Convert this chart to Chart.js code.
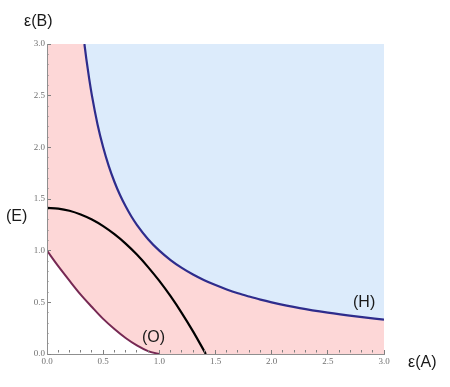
<!DOCTYPE html>
<html>
<head>
<meta charset="utf-8">
<script src="https://cdn.jsdelivr.net/npm/chart.js@4/dist/chart.umd.min.js"></script>
<style>
  html, body { margin: 0; padding: 0; background: #ffffff; }
  #wrap { position: relative; width: 450px; height: 387px; }
  canvas { display: block; }
</style>
</head>
<body>
<div id="wrap"><canvas id="c" width="450" height="387"></canvas></div>
<script>
// ---- data ----
const majorTicks = [0, 0.5, 1.0, 1.5, 2.0, 2.5, 3.0];

// (O) curve
const oX = [0, 0.1, 0.2, 0.3, 0.4, 0.5, 0.6, 0.7, 0.8, 0.9, 1.0];
const oY = [1.0, 0.85, 0.71, 0.575, 0.455, 0.34, 0.242, 0.155, 0.083, 0.028, 0.0];

// (E) curve
const eX = [0, 0.1, 0.2, 0.3, 0.4, 0.5, 0.6, 0.7, 0.8, 0.9, 1.0, 1.1, 1.2, 1.3, 1.414];
const eY = [1.414, 1.407, 1.386, 1.35, 1.301, 1.237, 1.159, 1.068, 0.962, 0.841, 0.707, 0.559, 0.396, 0.219, 0.0];

// (H) curve
const hX = [0.333, 0.35, 0.375, 0.4, 0.45, 0.5, 0.55, 0.6, 0.65, 0.7, 0.75, 0.8, 0.9, 1.0, 1.1, 1.2, 1.3, 1.4, 1.5, 1.6, 1.7, 1.8, 1.9, 2.0, 2.25, 2.5, 2.75, 3.0];
const hY = [3.0, 2.857, 2.667, 2.5, 2.222, 2.0, 1.818, 1.667, 1.538, 1.429, 1.333, 1.25, 1.111, 1.0, 0.909, 0.833, 0.769, 0.714, 0.667, 0.625, 0.588, 0.556, 0.526, 0.5, 0.444, 0.4, 0.364, 0.333];

// text labels
const axisLabelY = 'ε(B)';
const axisLabelX = 'ε(A)';
const curveLabels = ['(E)', '(H)', '(O)'];

// ---- build points ----
const pts = (xs, ys) => xs.map((x, i) => ({ x: x, y: ys[i] }));
const oPts = pts(oX, oY);
const ePts = pts(eX, eY);
const hPts = pts(hX, hY);
const boundaryPts = [{ x: 0, y: hY[0] }].concat(hPts);

const isMajor = v => majorTicks.some(m => Math.abs(m - v) < 1e-6);

const textPlugin = {
  id: 'texts',
  afterDraw(chart) {
    const ctx = chart.ctx;
    ctx.save();
    ctx.fillStyle = '#1a1a1a';
    ctx.font = '16px "Liberation Sans", Arial, sans-serif';
    ctx.textBaseline = 'middle';
    ctx.textAlign = 'left';
    ctx.fillText(axisLabelY, 24, 22);
    ctx.fillText(axisLabelX, 408, 363);
    ctx.fillText(curveLabels[0], 6, 217);
    ctx.fillText(curveLabels[1], 353, 303);
    ctx.fillText(curveLabels[2], 142, 338);
    ctx.restore();
  }
};

const axisCommon = (pos) => ({
  type: 'linear',
  position: pos,
  min: 0,
  max: 3,
  border: { display: true, color: '#8f8f8f', width: 1, z: 1 },
  grid: {
    z: 1,
    drawOnChartArea: false,
    drawTicks: true,
    tickLength: -4,
    tickColor: '#7f7f7f',
    tickWidth: 1,
    tickBorderDash: (ctx) => (ctx.tick && isMajor(ctx.tick.value)) ? [] : [0, 2.5, 2.5, 10]
  },
  ticks: {
    z: 1,
    stepSize: 0.1,
    autoSkip: false,
    maxRotation: 0,
    color: '#707070',
    font: { family: '"Liberation Serif", "DejaVu Serif", serif', size: 9 },
    callback: (v) => isMajor(v) ? Number(v).toFixed(1) : ''
  }
});

const xAxis = axisCommon('bottom');
xAxis.ticks.padding = 6;
xAxis.afterFit = (s) => { s.height = 33; };
const yAxis = axisCommon('left');
yAxis.ticks.padding = 6;
yAxis.afterFit = (s) => { s.width = 47; };

new Chart(document.getElementById('c'), {
  type: 'scatter',
  data: {
    datasets: [
      {
        label: 'O',
        data: oPts,
        showLine: true,
        borderColor: '#762853',
        borderWidth: 2,
        pointRadius: 0,
        cubicInterpolationMode: 'monotone',
        fill: 'start',
        backgroundColor: '#ffffff'
      },
      {
        label: 'E',
        data: ePts,
        showLine: true,
        borderColor: '#000000',
        borderWidth: 2.2,
        pointRadius: 0,
        cubicInterpolationMode: 'monotone',
        fill: false
      },
      {
        label: 'H',
        data: hPts,
        showLine: true,
        borderColor: '#2e2c8c',
        borderWidth: 2.2,
        pointRadius: 0,
        cubicInterpolationMode: 'monotone',
        fill: false
      },
      {
        label: 'pink',
        data: boundaryPts,
        showLine: true,
        borderWidth: 0,
        borderColor: 'rgba(0,0,0,0)',
        pointRadius: 0,
        cubicInterpolationMode: 'monotone',
        fill: 'start',
        backgroundColor: '#fdd7d7'
      },
      {
        label: 'blue',
        data: boundaryPts,
        showLine: true,
        borderWidth: 0,
        borderColor: 'rgba(0,0,0,0)',
        pointRadius: 0,
        cubicInterpolationMode: 'monotone',
        fill: 'end',
        backgroundColor: '#dcebfb'
      }
    ]
  },
  options: {
    responsive: false,
    animation: false,
    devicePixelRatio: 1,
    layout: { padding: { left: 0, top: 44, right: 66, bottom: 0 } },
    plugins: {
      legend: { display: false },
      tooltip: { enabled: false },
      filler: { drawTime: 'beforeDatasetsDraw' }
    },
    scales: { x: xAxis, y: yAxis }
  },
  plugins: [textPlugin]
});
</script>
</body>
</html>
